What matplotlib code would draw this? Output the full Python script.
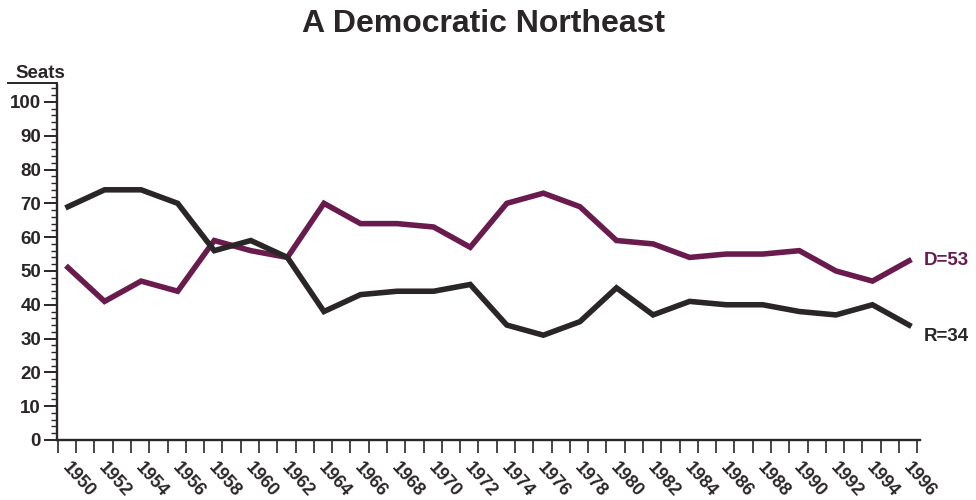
import matplotlib
matplotlib.use("Agg")
import matplotlib.pyplot as plt
import numpy as np
from matplotlib.lines import Line2D

years = [1950, 1952, 1954, 1956, 1958, 1960, 1962, 1964, 1966, 1968, 1970, 1972,
         1974, 1976, 1978, 1980, 1982, 1984, 1986, 1988, 1990, 1992, 1994, 1996]
dem = [51, 41, 47, 44, 59, 56, 54, 70, 64, 64, 63, 57,
       70, 73, 69, 59, 58, 54, 55, 55, 56, 50, 47, 53]
rep = [69, 74, 74, 70, 56, 59, 54, 38, 43, 44, 44, 46,
       34, 31, 35, 45, 37, 41, 40, 40, 38, 37, 40, 34]
year_labels = [str(y) for y in years]
title = "A Democratic Northeast"
ylabel = "Seats"
d_label = "D=53"
r_label = "R=34"

PURPLE = "#6a1b4d"
BLACK = "#2a2627"
plt.rcParams['font.family'] = ['Liberation Sans', 'DejaVu Sans']

fig = plt.figure(figsize=(9.76, 5.0), dpi=100)
ax = fig.add_axes([57/976, 1-440/500, (920-57)/976, (440-85)/500])

ax.plot(years, dem, color=PURPLE, lw=4.0, solid_joinstyle='miter', zorder=3)
ax.plot(years, rep, color=BLACK, lw=4.0, solid_joinstyle='miter', zorder=3)

ax.set_xlim(1949.4, 1996.6)
ax.set_ylim(0, 105)

for s in ['top', 'right']:
    ax.spines[s].set_visible(False)
for s in ['left', 'bottom']:
    ax.spines[s].set_linewidth(1.7)
    ax.spines[s].set_color(BLACK)

ax.set_yticks(np.arange(0, 101, 10))
ax.set_yticks(np.arange(0, 105, 2), minor=True)
ax.tick_params(axis='y', which='major', length=9.5, width=1.4, colors=BLACK,
               labelsize=13.5, pad=2)
ax.tick_params(axis='y', which='minor', length=4, width=1.0, colors=BLACK)
for lab in ax.get_yticklabels():
    lab.set_fontweight('bold')

ax.set_xticks(np.arange(1949.45, 1996.7, 1.0))
ax.set_xticklabels([])
ax.tick_params(axis='x', which='major', length=9, width=1.2, colors=BLACK)

trans = ax.get_xaxis_transform()
for y, lab in zip(years, year_labels):
    ax.text(y - 0.5, -0.055, lab, transform=trans, rotation=-48,
            ha='left', va='top', fontsize=13, fontweight='bold', color=BLACK)

ax.text(1996.8, 53, d_label, color=PURPLE, fontsize=13.5, fontweight='bold',
        va='center', ha='left', clip_on=False)
ax.text(1996.8, 30.5, r_label, color=BLACK, fontsize=13.5, fontweight='bold',
        va='center', ha='left', clip_on=False)

fig.text(484/976, 1-24/500, title, ha='center', va='center', fontsize=23,
         fontweight='bold', color=BLACK)
fig.text(15/976, 1-73/500, ylabel, ha='left', va='center', fontsize=13.5,
         fontweight='bold', color=BLACK)
fig.add_artist(Line2D([8/976, 57/976], [1-83/500, 1-83/500], color=BLACK, lw=1.4))

fig.savefig("out.png", dpi=100, facecolor='white')
